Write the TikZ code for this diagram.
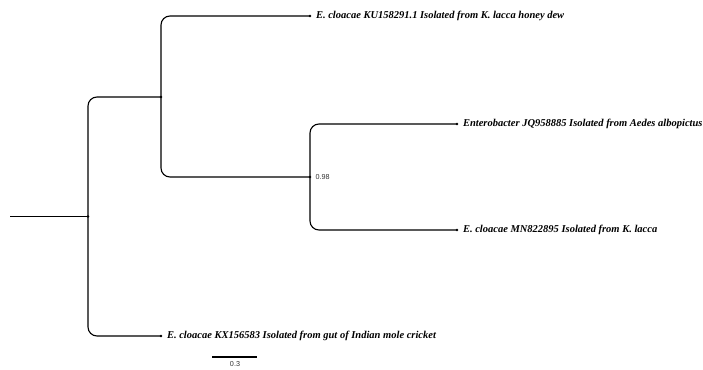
\documentclass[tikz,border=0pt]{standalone}
\usepackage{fontspec}
\setmainfont{Liberation Serif}
\setsansfont{Liberation Sans}
\usepackage{tikz}

\begin{document}
\begin{tikzpicture}[x=1pt,y=-1pt]
                \tikzstyle{vertex}=[circle,fill,inner sep=0pt,minimum size=2.6pt]
                \tikzstyle{branch}=[line width=1.1pt,rounded corners=9pt]
                \newcommand\taxon[4]{\node[vertex] at (#1,#2) (#3) {};%
                \node[right=2.5pt,font=\bfseries\itshape\fontsize{10.5}{12}\selectfont] at (#1,#2) (#3l) {#4};}
                \useasboundingbox (0,0) rectangle (703,369);
                \coordinate (stem) at (10,216.5);
                \node[vertex] at (88,216.5) (root) {};
                \node[vertex] at (161,97) (up) {};
                \node[vertex] at (310,177) (in) {};
                \node[right=2pt,font=\sffamily\fontsize{7.2}{8}\selectfont,text=black!80] at (310,177) {0.98};
                \taxon{310}{16}{kuhd}{E. cloacae KU158291.1 Isolated from K. lacca honey dew};
                \taxon{457}{124}{jqaa}{Enterobacter JQ958885 Isolated from Aedes albopictus};
                \taxon{457}{230}{mnkl}{E. cloacae MN822895 Isolated from K. lacca};
                \taxon{161}{336}{kxmc}{E. cloacae KX156583 Isolated from gut of Indian mole cricket};
                \draw[branch] (stem) -- (root.center);
                \draw[branch] (root.center) |- (up.center) (root.center) |- (kxmc.center);
                \draw[branch] (up.center) |- (kuhd.center) (up.center) |- (in.center);
                \draw[branch] (in.center) |- (jqaa.center) (in.center) |- (mnkl.center);
                % scale bar
                \coordinate (sb1) at (212,357);
                \coordinate (sb2) at (257,357);
                \draw[line width=1.4pt] (sb1) -- (sb2);
                \node[font=\sffamily\fontsize{7.2}{8}\selectfont,text=black!80,anchor=north,inner sep=0pt] at (235,361.5) (sbl) {0.3};
            \end{tikzpicture}
\end{document}
